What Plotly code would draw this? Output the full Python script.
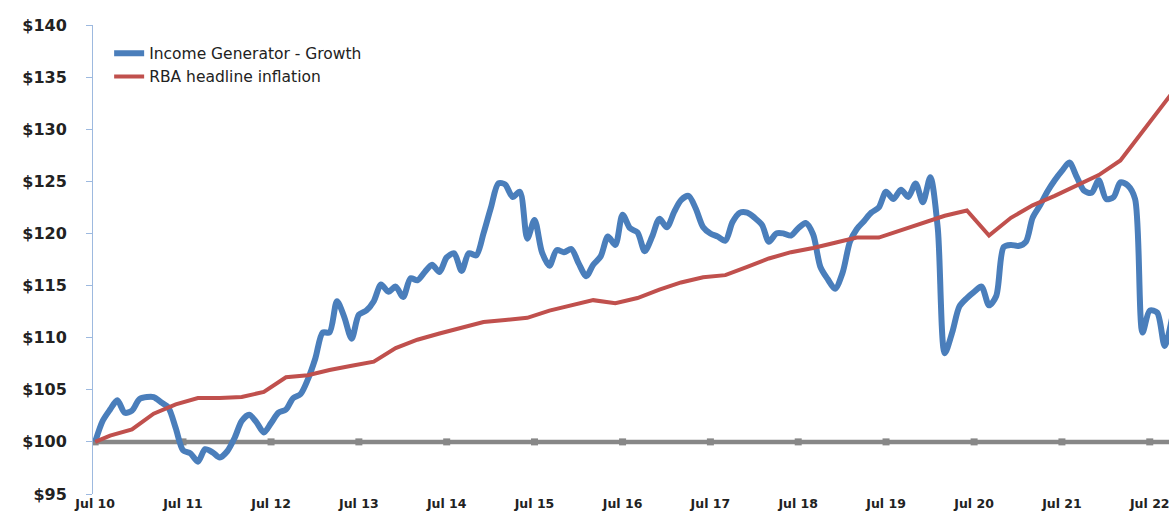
import plotly.graph_objects as go
import pandas as pd

# Monthly values, Income Generator - Growth (from Jul 2010)
growth_values = [
    100.0, 102.0, 103.1, 104.0, 102.8, 103.0, 104.1, 104.3, 104.3, 103.8,
    103.3, 101.3, 99.2, 98.9, 98.1, 99.3, 99.0, 98.5, 99.1, 100.4,
    102.0, 102.6, 101.9, 100.9, 101.8, 102.8, 103.1, 104.2, 104.6, 106.0,
    108.0, 110.5, 110.5, 113.5, 112.0, 109.9, 112.2, 112.6, 113.5, 115.1,
    114.4, 114.9, 113.9, 115.7, 115.5, 116.3, 117.0, 116.3, 117.7, 118.1,
    116.4, 118.1, 117.9, 120.0, 122.5, 124.8, 124.7, 123.5, 124.0, 119.5,
    121.3, 118.2, 116.9, 118.4, 118.2, 118.5, 117.1, 115.9, 117.0, 117.8,
    119.7, 118.9, 121.8, 120.5, 120.1, 118.3, 119.7, 121.4, 120.6, 122.1,
    123.2, 123.6, 122.4, 120.6, 120.0, 119.7, 119.3, 121.1, 122.0, 122.0,
    121.5, 120.8, 119.2, 120.0, 120.0, 119.8, 120.5, 121.0, 119.9, 116.8,
    115.6, 114.7, 116.2, 119.2, 120.4, 121.2, 122.0, 122.5, 124.0, 123.3,
    124.2, 123.5, 124.8, 123.0, 125.4, 120.5, 108.5, 110.5, 113.0, 113.8,
    114.4, 114.9, 113.1, 114.0, 118.7, 118.9, 118.8, 119.2, 121.5, 122.7,
    124.0, 125.1, 126.0, 126.8, 125.4, 124.1, 123.9, 125.1, 123.3, 123.5,
    124.9, 124.6, 123.3, 110.5, 112.6, 112.4, 109.2, 111.8,
]

# Quarterly values, RBA headline inflation (start Jul 2010, then Sep 2010 onward)
inflation_start = 100.0
inflation_values = [
    100.6, 101.2, 102.7, 103.6, 104.2, 104.2, 104.3, 104.8, 106.2, 106.4,
    106.9, 107.3, 107.7, 109.0, 109.8, 110.4, 111.0, 111.5, 111.7, 111.9,
    112.6, 113.1, 113.6, 113.3, 113.8, 114.6, 115.3, 115.8, 116.0, 116.8,
    117.6, 118.2, 118.6, 119.1, 119.6, 119.6, 120.3, 121.0, 121.7, 122.2,
    119.8, 121.5, 122.7, 123.6, 124.6, 125.6, 127.0, 129.8, 132.5, 135.3,
]

baseline_value = 100
tick_years = list(range(2010, 2023))
y_ticks = [95, 100, 105, 110, 115, 120, 125, 130, 135, 140]

growth_dates = pd.date_range("2010-07-01", periods=len(growth_values), freq="MS")
inflation_dates = [pd.Timestamp("2010-07-01")] + list(
    pd.date_range("2010-09-01", periods=len(inflation_values), freq="3MS"))
inflation_all = [inflation_start] + inflation_values
baseline_dates = [pd.Timestamp(f"{y}-07-01") for y in tick_years + [2023]]

BLUE = "#4A7EBB"
RED = "#C0504D"
GRAY = "#878787"
AXIS = "#9DB9DF"
FONT = "DejaVu Sans, Liberation Sans, Arial, sans-serif"

fig = go.Figure()

fig.add_trace(go.Scatter(
    x=baseline_dates, y=[baseline_value] * len(baseline_dates),
    mode="lines+markers", line=dict(color=GRAY, width=4.5),
    marker=dict(symbol="square", size=7, color=GRAY),
    showlegend=False, hoverinfo="skip"))

fig.add_trace(go.Scatter(
    x=growth_dates, y=growth_values, mode="lines",
    name="Income Generator - Growth",
    line=dict(color=BLUE, width=6, shape="spline", smoothing=0.8)))

fig.add_trace(go.Scatter(
    x=inflation_dates, y=inflation_all, mode="lines",
    name="RBA headline inflation",
    line=dict(color=RED, width=4)))

fig.update_layout(
    width=1169, height=513,
    margin=dict(l=93, r=0, t=25, b=19),
    plot_bgcolor="white", paper_bgcolor="white",
    font=dict(family=FONT, color="#222222"),
    legend=dict(x=0.015, y=0.975, xanchor="left", yanchor="top",
                bgcolor="rgba(0,0,0,0)", font=dict(size=15.5, color="#222222"),
                tracegroupgap=2),
    xaxis=dict(
        type="date",
        range=["2010-06-22", "2022-09-19"],
        tickvals=[pd.Timestamp(f"{y}-07-01") for y in tick_years],
        ticktext=[f"Jul {y % 100:02d}" for y in tick_years],
        tickfont=dict(size=12.5, color="#222222", weight="bold"),
        ticklabeloverflow="allow",
        showgrid=False, zeroline=False, showline=False, ticks="",
    ),
    yaxis=dict(
        range=[95, 140],
        tickvals=y_ticks,
        ticktext=[f"${v}" for v in y_ticks],
        tickfont=dict(size=16, color="#222222", weight="bold"),
        showgrid=False, zeroline=False,
        showline=True, linecolor=AXIS, linewidth=1,
        ticks="outside", ticklen=6, tickcolor=AXIS,
        ticklabelstandoff=16,
    ),
)

fig.write_html("out.html",
               config={"displayModeBar": False},
               post_script="document.body.style.margin='0';document.body.style.overflow='hidden';")
